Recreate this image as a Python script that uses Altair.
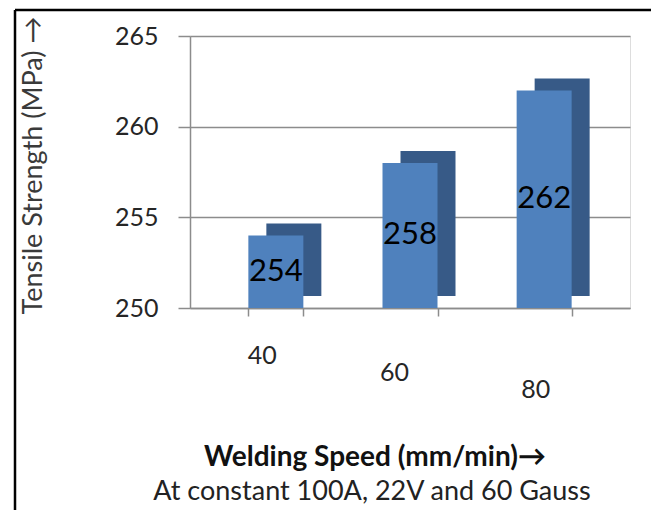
import altair as alt
import pandas as pd

speeds = ["40", "60", "80"]
strength = [254, 258, 262]

x_title = "Welding Speed (mm/min)→"
x_subtitle = "At constant 100A, 22V and 60 Gauss"
y_title = "Tensile Strength (MPa) →"

df = pd.DataFrame({"speed": speeds, "strength": strength})

FONT = "Lato"
FRONT = "#4F81BD"
SIDE = "#375A87"
GRID = "#8C8C8C"
TXT = "#262626"

xscale = alt.Scale(paddingInner=0.59, paddingOuter=0.435)
yscale = alt.Scale(domain=[250, 265], zero=False, nice=False)

xaxis = alt.Axis(
    title=None,
    grid=False,
    gridOpacity=0,
    gridWidth=0,
    labelAngle=0,
    labelFont=FONT,
    labelFontSize=25,
    labelColor=TXT,
    labelBaseline="middle",
    domainColor=GRID,
    domainWidth=1.5,
    tickColor=GRID,
    tickWidth=1.5,
    tickSize=8,
    tickBand="extent",
    labelPadding={
        "condition": [
            {"test": "datum.value == '60'", "value": 56},
            {"test": "datum.value == '80'", "value": 73},
        ],
        "value": 39,
    },
    labelOffset={
        "condition": [
            {"test": "datum.value == '60'", "value": -16},
            {"test": "datum.value == '80'", "value": -9},
        ],
        "value": -14,
    },
)

yaxis = alt.Axis(
    title=y_title,
    titleFont=FONT,
    titleFontSize=27,
    titleFontWeight="normal",
    titleColor="#3A3A3A",
    titleAngle=-90,
    titleX=-157,
    titleY=129,
    titleAlign="center",
    titleBaseline="middle",
    values=[250, 255, 260, 265],
    labelFont=FONT,
    labelFontSize=25,
    labelColor=TXT,
    labelPadding=20,
    tickSize=12,
    tickColor=GRID,
    tickWidth=1.5,
    domainColor=GRID,
    domainWidth=1.5,
    grid=True,
    gridColor=GRID,
    gridWidth=1.5,
)

xenc = alt.X("speed:N", sort=speeds, scale=xscale, axis=xaxis)
yenc = alt.Y("strength:Q", scale=yscale, axis=yaxis)

base = alt.Chart(df)

depth = base.mark_bar(color=SIDE, xOffset=18, yOffset=-12, y2Offset=-12).encode(
    x=xenc, y=yenc, y2=alt.datum(250)
)
front = base.mark_bar(color=FRONT).encode(x=xenc, y=yenc, y2=alt.datum(250))
labels = base.transform_calculate(mid="(datum.strength + 250) / 2").mark_text(
    font=FONT, fontSize=31, color="#000000", baseline="middle", align="center"
).encode(
    x=xenc,
    y=alt.Y("mid:Q", scale=yscale, axis=yaxis),
    text=alt.Text("strength:Q"),
)

frame_data = alt.Data(values=[{"k": 1}])
left_border = alt.Chart(frame_data).mark_rule(color="#000000", strokeWidth=2.5).encode(
    x=alt.value(-175), y=alt.value(-26), y2=alt.value(474)
)
top_border = alt.Chart(frame_data).mark_rule(color="#000000", strokeWidth=2.5).encode(
    x=alt.value(-175), x2=alt.value(461), y=alt.value(-26)
)

title_text = alt.Chart(alt.Data(values=[{"t": x_title}])).mark_text(
    font=FONT, fontSize=28, fontWeight="bold", color="#111111",
    align="center", baseline="middle"
).encode(x=alt.value(185), y=alt.value(422), text="t:N")

subtitle_text = alt.Chart(alt.Data(values=[{"t": x_subtitle}])).mark_text(
    font=FONT, fontSize=27, color="#222222", align="center", baseline="middle"
).encode(x=alt.value(182), y=alt.value(456), text="t:N")

chart = (
    alt.layer(depth, front, labels, left_border, top_border, title_text, subtitle_text)
    .properties(
        width=440,
        height=272,
        autosize=alt.AutoSizeParams(type="none"),
        padding={"left": 190, "top": 36, "right": 21, "bottom": 202},
    )
    .configure_view(stroke="transparent", strokeWidth=0)
    .configure(background="white")
)

chart.save("out.html", embed_options={"renderer": "svg", "actions": False})
